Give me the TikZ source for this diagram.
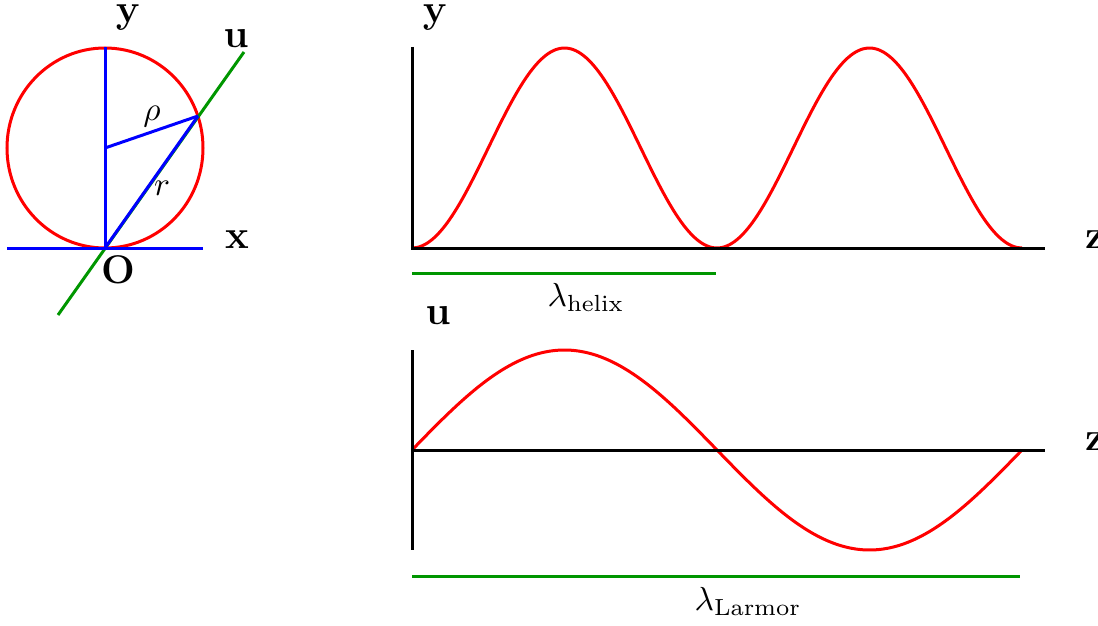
\documentclass[tikz,border=0pt]{standalone}
\usepackage{amsmath}
\usepackage{amssymb}
\definecolor{lgreen}{RGB}{0,150,0}

\begin{document}
\begin{tikzpicture}[x=0.3pt,y=-0.3pt,line width=0.9pt]
	\useasboundingbox (0,0) rectangle (1098,625);
	
	% cross section
	\coordinate (O) at (105,248);
	\coordinate (C) at (105,148);
	\coordinate (T) at (105,47);
	\coordinate (P) at (198,116);
	\coordinate (XL) at (7,248);
	\coordinate (XR) at (203,248);
	\coordinate (UL) at (58,315);
	\coordinate (UR) at (244,52);
	
	\draw [red] (C) ellipse [x radius=98, y radius=100];
	\draw [lgreen] (UL) -- (UR);
	\draw [blue] (XL) -- (XR);
	\draw [blue] (T) -- (O);
	\draw [blue] (O) -- (P);
	\draw [blue] (C) -- (P);
	
	\begin{scope}[every node/.style={font=\large}]
	\node (ly) at (128,18) {$\mathbf{y}$};
	\node (lu) at (236,39) {$\mathbf{u}$};
	\node (lx) at (237,240) {$\mathbf{x}$};
	\node (lo) at (118,270) {$\mathbf{O}$};
	\node (ay) at (435,18) {$\mathbf{y}$};
	\node (az) at (1095,240) {$\mathbf{z}$};
	\node (bu) at (438,316) {$\mathbf{u}$};
	\node (bz) at (1095,442) {$\mathbf{z}$};
	\end{scope}
	
	\node (rho) at (152,117) {$\rho$};
	\node (r) at (162,188) {$r$};
	
	% helix projection y(z)
	\coordinate (A0) at (412,47);
	\coordinate (A1) at (412,248);
	\coordinate (A2) at (1045,248);
	\draw [red] plot [domain=0:610,samples=120,smooth] ({412+\x},{148+100*cos(\x/305*360)});
	\draw [black] (A0) -- (A1) -- (A2);
	
	\coordinate (H0) at (412,273);
	\coordinate (H1) at (716,273);
	\draw [lgreen] (H0) -- (H1);
	\node (lh) at (586,298) {$\lambda_{\text{helix}}$};
	
	% Larmor u(z)
	\coordinate (B0) at (412,350);
	\coordinate (B1) at (412,550);
	\coordinate (B2) at (412,450);
	\coordinate (B3) at (1045,450);
	\draw [red] plot [domain=0:610,samples=120,smooth] ({412+\x},{450-100*sin(\x/610*360)});
	\draw [black] (B0) -- (B1);
	\draw [black] (B2) -- (B3);
	
	\coordinate (L0) at (412,576);
	\coordinate (L1) at (1020,576);
	\draw [lgreen] (L0) -- (L1);
	\node (ll) at (748,602) {$\lambda_{\text{Larmor}}$};
\end{tikzpicture}
\end{document}
